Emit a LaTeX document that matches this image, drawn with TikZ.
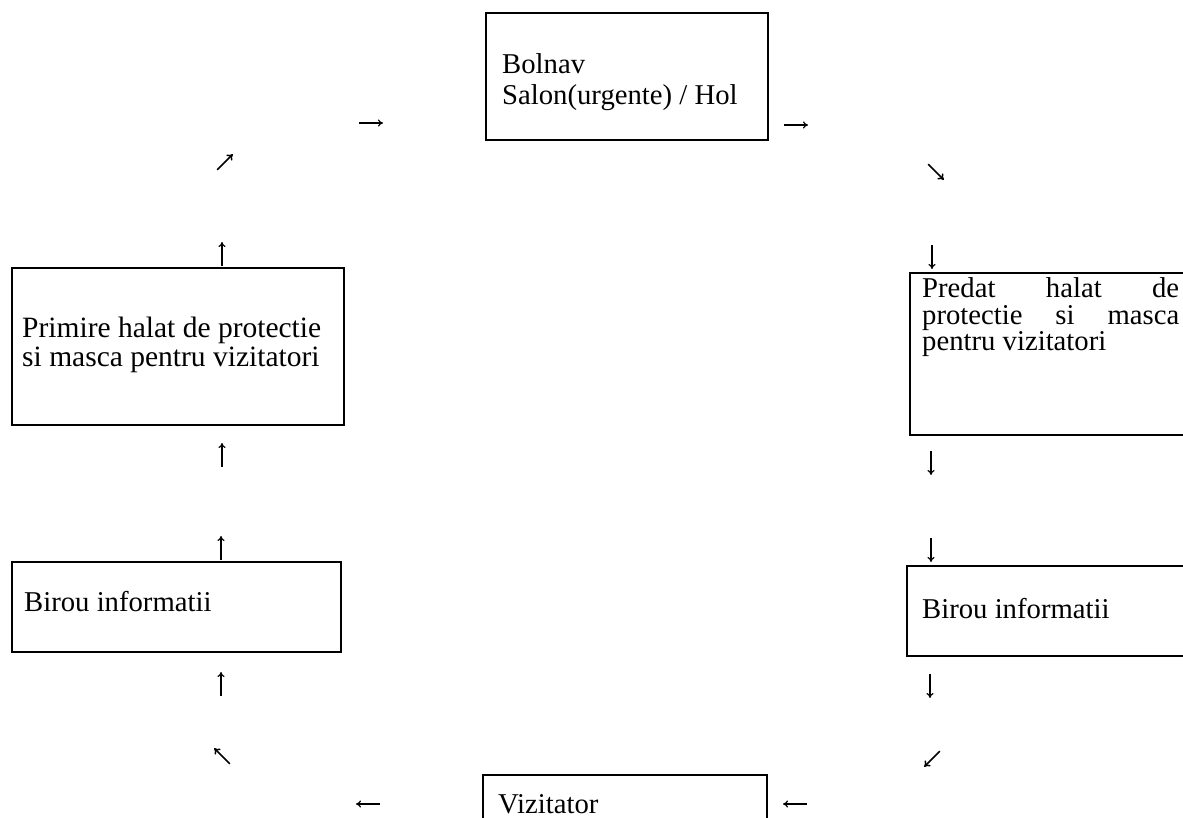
\documentclass[tikz,border=0pt]{standalone}
\usepackage{fontspec}
\setmainfont{Liberation Serif}
\usetikzlibrary{arrows.meta}
\begin{document}
\begin{tikzpicture}[x=1pt,y=-1pt,
  box/.style={draw, line width=1.4pt, inner sep=0pt, outer sep=0pt, anchor=north west},
  lbl/.style={anchor=base west, inner sep=0pt, font=\fontsize{28.7}{28}\selectfont},
  biglbl/.style={lbl, font=\fontsize{29.5}{28}\selectfont},
  glyph/.pic={\draw[line width=1.2pt,-{To[length=5pt,width=7pt]}] (-12,0) -- (12,0);},
  dglyph/.pic={\draw[line width=1.5pt,-{To[length=5.5pt,width=8pt]}] (-11,0) -- (11,0);}
]
\useasboundingbox (0,0) rectangle (1183,818);
% boxes
\node[box, minimum width=282pt, minimum height=127pt] (bolnav) at (486,13) {};
\node[box, minimum width=332pt, minimum height=157pt] (primire) at (12,268) {};
\node[box, minimum width=329pt, minimum height=90pt] (birouL) at (12,562) {};
\node[box, minimum width=300pt, minimum height=162pt] (predat) at (910,273) {};
\node[box, minimum width=300pt, minimum height=90pt] (birouR) at (907,566) {};
\node[box, minimum width=284pt, minimum height=80pt] (viz) at (483,775) {};
% texts
\node[lbl] (tb1) at (502,74) {Bolnav};
\node[lbl] (tb2) at (502,105) {Salon(urgente) / Hol};
\node[biglbl] (tp1) at (22,337) {Primire halat de protectie};
\node[biglbl] (tp2) at (22,366) {si masca pentru vizitatori};
\node[lbl] (tbl) at (24,611) {Birou informatii};
\node[lbl] (td1) at (922,298) {\makebox[257pt][s]{Predat halat de}};
\node[lbl] (td2) at (922,324) {\makebox[257pt][s]{protectie si masca}};
\node[lbl] (td3) at (922,350) {pentru vizitatori};
\node[lbl] (tbr) at (922,618) {Birou informatii};
\node[lbl] (tv) at (498,813) {Vizitator};
% arrow glyphs
\pic at (371,123) {glyph};
\pic at (796,125) {glyph};
\pic[rotate=45] at (225,162) {dglyph};
\pic[rotate=-45] at (936,172) {dglyph};
\pic[rotate=90] at (222,254) {glyph};
\pic[rotate=-90] at (932,257) {glyph};
\pic[rotate=90] at (222,455) {glyph};
\pic[rotate=-90] at (931,463) {glyph};
\pic[rotate=90] at (221,548) {glyph};
\pic[rotate=-90] at (931,550) {glyph};
\pic[rotate=90] at (221,684) {glyph};
\pic[rotate=-90] at (930,686) {glyph};
\pic[rotate=135] at (222,756) {dglyph};
\pic[rotate=-135] at (932,759) {dglyph};
\pic[rotate=180] at (368,804) {glyph};
\pic[rotate=180] at (795,804) {glyph};
\end{tikzpicture}
\end{document}
